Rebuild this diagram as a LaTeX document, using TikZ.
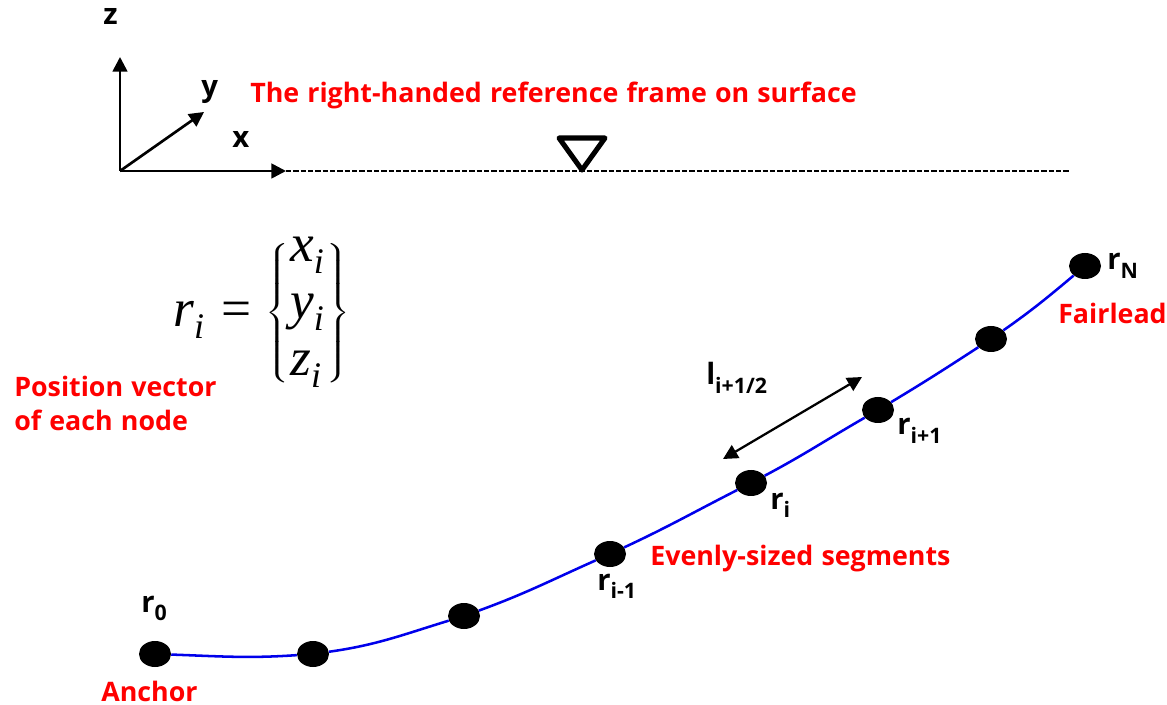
\documentclass[tikz,border=0pt]{standalone}
\usepackage{fontspec}
\usepackage{graphicx}
\setmainfont{Open Sans}
\newfontfamily\eqfont{Liberation Serif}
\newfontfamily\redfont[WordSpace=1.17]{Open Sans}
\usetikzlibrary{arrows.meta,shapes.geometric}
\definecolor{curveblue}{RGB}{0,0,235}
\tikzset{
  lab/.style={font=\fontsize{22}{26}\selectfont\bfseries, text=black, inner sep=0pt, anchor=base west},
  red lab/.style={font=\redfont\fontsize{20.1}{24}\selectfont\bfseries, text=red, inner sep=0pt, anchor=base west},
  math lab/.style={font=\eqfont\fontsize{40}{44}\selectfont, inner sep=0pt, anchor=base west},
  brace lab/.style={inner sep=0pt},
  mass/.style={draw=none, fill=black, ellipse, minimum width=24pt, minimum height=19.5pt, inner sep=0pt},
  axis/.style={draw=black, line width=2pt, -{Triangle[length=11pt,width=11pt]}},
  cable/.style={draw=curveblue, line width=1.9pt}
}
\newcommand{\sbs}[2]{#1\raisebox{-0.3em}{\fontsize{16}{16}\selectfont\bfseries #2}}
\newcommand{\msb}[1]{\textit{#1}\raisebox{-0.22em}{\fontsize{27}{27}\selectfont\itshape i}}
\newcommand{\tallbrace}{\scalebox{2.0}[1.45]{$\left\{\vcenter{\hbox{\rule{0pt}{74pt}}}\right.$}}
\newcommand{\tallbraceR}{\scalebox{2.0}[1.45]{$\left.\vcenter{\hbox{\rule{0pt}{74pt}}}\right\}$}}
\begin{document}
\begin{tikzpicture}[x=0.75pt,y=-0.75pt]
\useasboundingbox (0,0) rectangle (1167,705);
% axes
\coordinate (o) at (120,171);
\coordinate (xe) at (286,171);
\coordinate (ye) at (204,112);
\coordinate (ze) at (120,57);
\coordinate (de) at (1070,171);
\draw[axis] (o) -- (xe);
\draw[axis] (o) -- (ye);
\draw[axis] (o) -- (ze);
\draw[black, line width=1.1pt, dash pattern=on 4pt off 1.5pt] (xe) -- (de);
\coordinate (t1) at (559,138);
\coordinate (t2) at (605,138);
\coordinate (t3) at (582,170);
\draw[black, line width=3.8pt, line join=round] (t1) -- (t2) -- (t3) -- cycle;
\node[lab] (zl) at (103,25) {z};
\node[lab] (yl) at (201,97) {y};
\node[lab] (xl) at (232,148) {x};
\node[red lab] (title) at (250,103) {The right-handed reference frame on surface};
% equation
\node[math lab] (er) at (173,327) {\msb{r}};
\node[math lab] (eqs) at (221,327) {=};
\node[math lab] (ex) at (290,262) {\msb{x}};
\node[math lab] (ey) at (290,319) {\msb{y}};
\node[math lab] (ez) at (290,376) {\msb{z}};
\node[brace lab] (bl) at (279,313) {\tallbrace};
\node[brace lab] (br) at (337,313) {\tallbraceR};
\node[red lab] (p1) at (14,397) {Position vector};
\node[red lab] (p2) at (14,431) {of each node};
% masses
\node[mass] (n0) at (155,654) {};
\node[mass] (n1) at (313,654) {};
\node[mass] (n2) at (464,616) {};
\node[mass] (n3) at (610,554) {};
\node[mass] (n4) at (751,483) {};
\node[mass] (n5) at (878,410) {};
\node[mass] (n6) at (991,339) {};
\node[mass] (n7) at (1085,266) {};
\draw[cable] (n0) to[out=-2,in=184] (n1);
\draw[cable] (n1) to[out=8,in=197] (n2);
\draw[cable] (n2) to[out=20,in=204] (n3);
\draw[cable] (n3) to[out=25,in=207] (n4);
\draw[cable] (n4) to[out=28,in=210] (n5);
\draw[cable] (n5) to[out=31,in=213] (n6);
\draw[cable] (n6) to[out=35,in=220] (n7);
% length arrow
\coordinate (la) at (723,459);
\coordinate (lb) at (862,377);
\draw[black, line width=1.7pt, {Triangle[length=11pt,width=11pt]}-{Triangle[length=11pt,width=11pt]}] (la) -- (lb);
% labels
\node[lab] (r0) at (141,612) {\sbs{r}{0}};
\node[lab] (rim) at (597,590) {\sbs{r}{i-1}};
\node[lab] (ri) at (770,509) {\sbs{r}{i}};
\node[lab] (rip) at (897,435) {\sbs{r}{i+1}};
\node[lab] (rn) at (1107,270) {\sbs{r}{N}};
\node[lab] (len) at (706,385) {\sbs{l}{i+1/2}};
\node[red lab] (anc) at (101,701) {Anchor};
\node[red lab] (fair) at (1058,324) {Fairlead};
\node[red lab] (even) at (650,565) {Evenly-sized segments};
\end{tikzpicture}
\end{document}
